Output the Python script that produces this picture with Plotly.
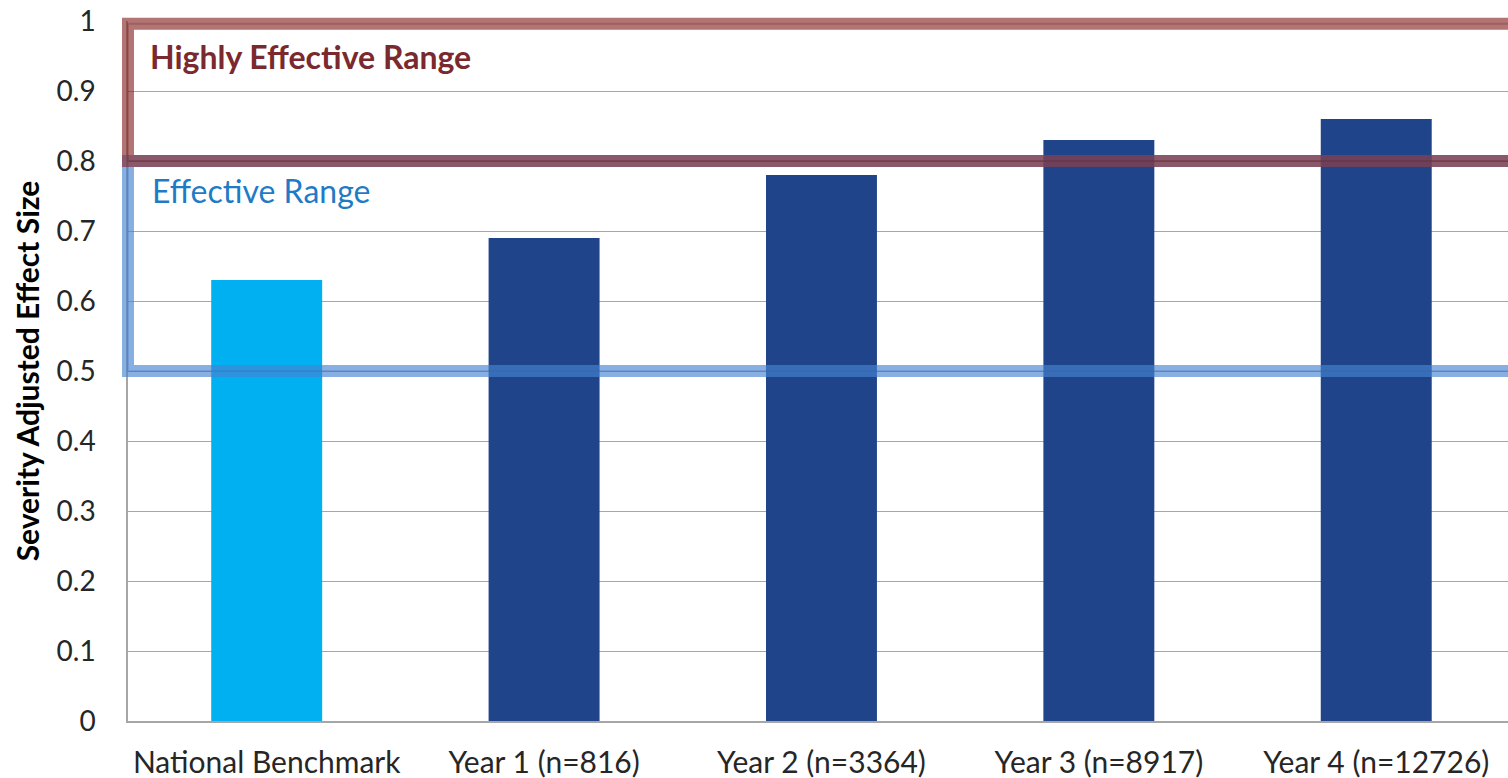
import plotly.graph_objects as go

categories = ["National Benchmark", "Year 1 (n=816)", "Year 2 (n=3364)", "Year 3 (n=8917)", "Year 4 (n=12726)"]
values = [0.63, 0.69, 0.78, 0.83, 0.86]
bar_colors = ["#00B0F0", "#1F4489", "#1F4489", "#1F4489", "#1F4489"]
y_ticks = [0, 0.1, 0.2, 0.3, 0.4, 0.5, 0.6, 0.7, 0.8, 0.9, 1]
y_tick_text = ["0", "0.1", "0.2", "0.3", "0.4", "0.5", "0.6", "0.7", "0.8", "0.9", "1"]
y_range = [0, 1]
effective_range = [0.5, 0.8]
highly_effective_range = [0.8, 1.0]

FONT = "Lato"


def to_paper(v):
    return (v - y_range[0]) / (y_range[1] - y_range[0])


fig = go.Figure()
fig.add_trace(go.Bar(x=categories, y=values, marker=dict(color=bar_colors, line=dict(width=0)),
                     width=0.4, hoverinfo="skip"))

# Effective range frame
fig.add_shape(type="rect", xref="paper", yref="paper", x0=0, x1=1.005,
              y0=to_paper(effective_range[0]), y1=to_paper(effective_range[1]),
              line=dict(color="rgba(71,132,209,0.65)", width=12), fillcolor="rgba(0,0,0,0)", layer="above")
fig.add_shape(type="rect", xref="paper", yref="paper", x0=0, x1=1.005,
              y0=to_paper(effective_range[0]), y1=to_paper(effective_range[1]),
              line=dict(color="rgba(50,100,170,0.25)", width=2), fillcolor="rgba(0,0,0,0)", layer="above")
# Highly effective range frame
fig.add_shape(type="rect", xref="paper", yref="paper", x0=0, x1=1.005,
              y0=to_paper(highly_effective_range[0]), y1=to_paper(highly_effective_range[1]) - 0.004,
              line=dict(color="rgba(139,42,42,0.65)", width=12), fillcolor="rgba(0,0,0,0)", layer="above")
fig.add_shape(type="rect", xref="paper", yref="paper", x0=0, x1=1.005,
              y0=to_paper(highly_effective_range[0]), y1=to_paper(highly_effective_range[1]) - 0.004,
              line=dict(color="rgba(100,30,30,0.25)", width=2), fillcolor="rgba(0,0,0,0)", layer="above")

fig.add_annotation(text="<b>Highly Effective Range</b>", xref="paper", yref="y", x=20/1380, y=0.95,
                   xanchor="left", yanchor="middle", showarrow=False,
                   font=dict(family=FONT, size=32, color="#7A2A2E"))
fig.add_annotation(text="Effective Range", xref="paper", yref="y", x=22/1380, y=0.758,
                   xanchor="left", yanchor="middle", showarrow=False,
                   font=dict(family=FONT, size=32, color="#1F7BC6"))

fig.update_layout(
    width=1508, height=778,
    margin=dict(l=128, r=0, t=21, b=57),
    paper_bgcolor="white", plot_bgcolor="white",
    showlegend=False, bargap=0.6,
    font=dict(family=FONT, color="#262626"),
)
fig.update_xaxes(range=[-0.5, len(categories) - 0.525],
                 showline=True, linecolor="#A6A6A6", linewidth=2, ticks="", showgrid=False,
                 ticklabelstandoff=14,
                 tickfont=dict(family=FONT, size=30, color="#262626"))
fig.update_yaxes(range=y_range, tickvals=y_ticks, ticktext=y_tick_text,
                 showline=True, linecolor="#A6A6A6", linewidth=1.5, showgrid=True, gridcolor="#A6A6A6",
                 gridwidth=1, zeroline=False, ticks="", ticklabelstandoff=25,
                 tickfont=dict(family=FONT, size=28, color="#262626"),
                 title=dict(text="<b>Severity Adjusted Effect Size</b>", font=dict(family=FONT, size=30, color="#000000"),
                            standoff=8))

fig.write_html("out.html")
